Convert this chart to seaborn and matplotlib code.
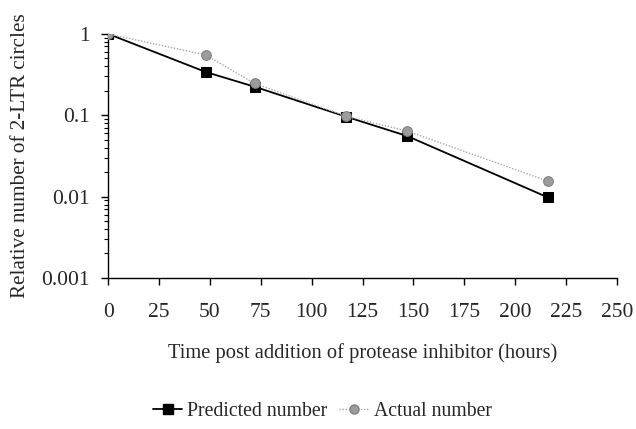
import matplotlib
matplotlib.use("Agg")
import matplotlib.pyplot as plt
import matplotlib.ticker as mticker
import seaborn as sns
import pandas as pd
from matplotlib.lines import Line2D

hours = [0, 48, 72, 117, 147, 216]
predicted = [1.0, 0.34, 0.224, 0.096, 0.0555, 0.0098]
actual = [1.0, 0.55, 0.246, 0.097, 0.064, 0.0155]
x_ticks = [0, 25, 50, 75, 100, 125, 150, 175, 200, 225, 250]
y_ticks = [0.001, 0.01, 0.1, 1]
y_tick_labels = ["0.001", "0.01", "0.1", "1"]

df_pred = pd.DataFrame({"hours": hours, "value": predicted})
df_act = pd.DataFrame({"hours": hours, "value": actual})

sns.set_style("white")
plt.rcParams["font.family"] = ["Liberation Serif", "DejaVu Serif"]

fig = plt.figure(figsize=(6.36, 4.29), dpi=100)
ax = fig.add_axes([0.170, 0.352, 0.800, 0.569])

sns.lineplot(data=df_act, x="hours", y="value", ax=ax, color="#a8a8a8",
             linestyle=(0, (1, 1.2)), linewidth=1.0, marker="o", markersize=7,
             markerfacecolor="#9c9c9c", markeredgecolor="#808080", zorder=3)
sns.lineplot(data=df_pred, x="hours", y="value", ax=ax, color="black",
             linewidth=1.3, marker="s", markersize=7.5,
             markerfacecolor="black", markeredgecolor="black", zorder=2)

ax.set_yscale("log")
ax.set_xlim(0, 250)
ax.set_ylim(0.001, 1)
ax.set_xticks(x_ticks)
ax.set_yticks(y_ticks)
ax.set_yticklabels(y_tick_labels)
ax.yaxis.set_minor_locator(mticker.LogLocator(base=10, subs=range(2, 10)))
ax.yaxis.set_minor_formatter(mticker.NullFormatter())

for s in ["top", "right"]:
    ax.spines[s].set_visible(False)
for s in ["left", "bottom"]:
    ax.spines[s].set_color("black")
    ax.spines[s].set_linewidth(1.0)

ax.tick_params(axis="both", which="major", direction="out", length=5, width=1,
               color="black", labelsize=15.5, pad=8, left=True, bottom=True)
ax.tick_params(axis="y", which="minor", direction="out", length=3, width=0.8,
               color="black", left=True)
ax.tick_params(axis="x", pad=13)

ax.set_xlabel("Time post addition of protease inhibitor (hours)", fontsize=14.8, labelpad=15)
ax.set_ylabel("Relative number of 2-LTR circles", fontsize=15.2, labelpad=8)
ax.grid(False)

handles = [
    Line2D([0], [0], color="black", linewidth=1.3, marker="s", markersize=7,
           markerfacecolor="black"),
    Line2D([0], [0], color="#a8a8a8", linestyle=(0, (1, 1.2)), linewidth=1.0,
           marker="o", markersize=6.5, markerfacecolor="#9c9c9c",
           markeredgecolor="#808080"),
]
fig.legend(handles, ["Predicted number", "Actual number"], loc="center",
           bbox_to_anchor=(0.507, 1 - 411 / 429), ncol=2, frameon=False,
           fontsize=14.2, handlelength=1.5, handletextpad=0.25, columnspacing=0.6)

fig.savefig("out.png", dpi=100)
